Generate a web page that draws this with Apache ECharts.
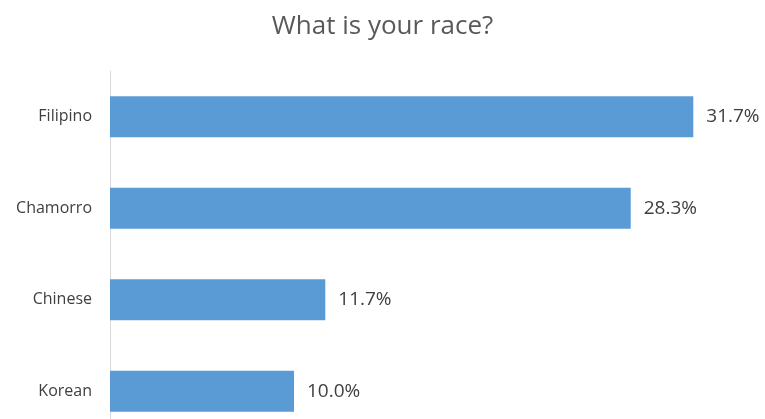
<!DOCTYPE html>
<html><head><meta charset="utf-8">
<script src="https://cdn.jsdelivr.net/npm/echarts@6/dist/echarts.min.js"></script>
<style>html,body{margin:0;padding:0;background:#fff}#c{width:765px;height:419px}</style>
</head><body><div id="c"></div>
<script>
const categories = ["Filipino", "Chamorro", "Chinese", "Korean"];
const values = [31.7, 28.3, 11.7, 10.0];
const titleText = "What is your race?";

const chart = echarts.init(document.getElementById('c'), null, {renderer: 'canvas'});
chart.setOption({
  animation: false,
  backgroundColor: '#ffffff',
  title: {
    text: titleText, left: 'center', top: 9,
    textStyle: {fontFamily: 'Open Sans', fontSize: 26, fontWeight: 'normal', color: '#595959'}
  },
  grid: {left: 110, right: 11, top: 71, height: 366, containLabel: false, outerBoundsMode: 'none'},
  xAxis: {
    type: 'value', min: 0, max: 35, show: false
  },
  yAxis: {
    type: 'category', data: categories, inverse: true,
    axisLine: {show: true, lineStyle: {color: '#d9d9d9', width: 1}},
    axisTick: {show: false},
    axisLabel: {margin: 18, fontFamily: 'Open Sans', fontSize: 16, color: '#404040'}
  },
  series: [{
    type: 'bar', data: values, barWidth: '45%',
    itemStyle: {color: '#5b9bd5'},
    label: {
      show: true, position: 'right', distance: 13,
      fontFamily: 'Open Sans', fontSize: 19, color: '#404040',
      formatter: p => p.value.toFixed(1) + '%'
    }
  }]
});
</script></body></html>
